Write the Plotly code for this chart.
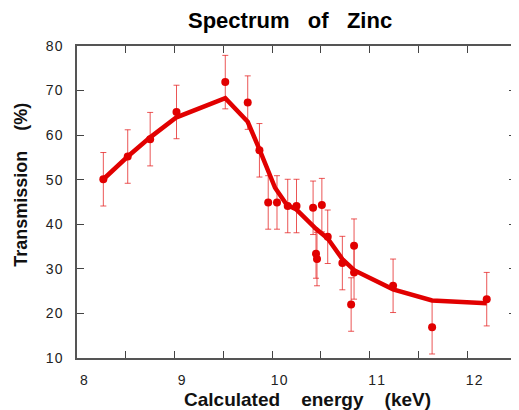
import plotly.graph_objects as go

# Measured data points
energy = [8.27, 8.52, 8.75, 9.02, 9.52, 9.75, 9.87, 9.96, 10.05, 10.16, 10.25,
          10.42, 10.51, 10.45, 10.46, 10.57, 10.72, 10.84, 10.84, 10.81, 11.24,
          11.64, 12.20]
transmission = [50.1, 55.2, 59.1, 65.2, 71.9, 67.3, 56.6, 44.9, 44.9, 44.1, 44.1,
                43.7, 44.3, 33.4, 32.2, 37.2, 31.3, 35.2, 29.2, 22.0, 26.2,
                16.9, 23.2]
errors = [6.0, 6.0, 6.0, 6.0, 6.0, 6.0, 6.0, 6.0, 6.0, 6.0, 6.0,
          6.0, 6.0, 5.5, 6.0, 6.0, 6.0, 6.0, 6.0, 6.0, 6.0,
          6.0, 6.0]

# Fitted curve
fit_energy = [8.27, 8.52, 8.75, 9.02, 9.52, 9.75, 9.87, 10.03, 10.15, 10.25,
              10.45, 10.57, 10.72, 10.84, 11.24, 11.64, 12.20]
fit_trans = [50.1, 55.2, 59.5, 64.0, 68.3, 63.0, 56.8, 48.2, 44.4, 43.3,
             39.0, 36.8, 32.2, 29.7, 25.4, 22.9, 22.3]

x_tickvals = [8, 9, 10, 11, 12]
x_ticktext = ["8", "9", "1\u200a0", "1\u200a1", "1\u200a2"]
y_tickvals = [10, 20, 30, 40, 50, 60, 70, 80]
y_ticktext = ["1\u200a0", "2\u200a0", "3\u200a0", "4\u200a0", "5\u200a0", "6\u200a0", "7\u200a0", "8\u200a0"]

RED = "rgb(225,0,0)"
NB = "\u00a0"

fig = go.Figure()
fig.add_trace(go.Scatter(
    x=energy, y=transmission, mode="markers",
    marker=dict(color=RED, size=8),
    error_y=dict(type="data", array=errors, visible=True,
                 color="rgba(228,30,30,0.75)", thickness=1, width=3),
    showlegend=False,
))
fig.add_trace(go.Scatter(
    x=fit_energy, y=fit_trans, mode="lines",
    line=dict(color=RED, width=4.5),
    showlegend=False,
))

axis_common = dict(
    showgrid=False, zeroline=False, showline=True, linecolor="#555", linewidth=1.5,
    mirror="allticks", ticks="inside", ticklen=7, tickcolor="#444", tickwidth=1,
    tickfont=dict(family="Liberation Sans, Arial", size=14, color="#222"),
)

# The page body has an 8px margin, so the figure is sized to fit the 519x410 window.
fig.update_layout(
    width=511, height=402,
    margin=dict(l=69.3, r=1, t=37.7, b=51.6),
    paper_bgcolor="white", plot_bgcolor="white",
    xaxis=dict(range=[8, 12.5], tickvals=x_tickvals, ticktext=x_ticktext,
               minor=dict(dtick=0.5, ticks="inside", ticklen=7, tickcolor="#444"),
               ticklabelshift=7, ticklabelstandoff=8, **axis_common),
    yaxis=dict(range=[10, 80], tickvals=y_tickvals, ticktext=y_ticktext,
               ticklabelstandoff=10, **axis_common),
    annotations=[
        dict(text="Spectrum" + NB * 3 + "of" + NB * 3 + "Zinc", xref="paper", yref="paper",
             x=0.486, y=1.082, xanchor="center", yanchor="middle", showarrow=False,
             font=dict(family="Liberation Sans, Arial", size=22, color="black", weight="bold")),
        dict(text="Transmission" + NB * 4 + "(%)", xref="paper", yref="paper",
             x=-0.1293, y=0.556, xanchor="center", yanchor="middle", showarrow=False,
             textangle=-90,
             font=dict(family="Liberation Sans, Arial", size=18, color="#111", weight="bold")),
        dict(text="Calculated" + NB * 4 + "energy" + NB * 4 + "(keV)", xref="paper", yref="paper",
             x=0.526, y=-0.133, xanchor="center", yanchor="middle", showarrow=False,
             font=dict(family="Liberation Sans, Arial", size=19, color="#111", weight="bold")),
    ],
)

fig.write_html("out.html")
